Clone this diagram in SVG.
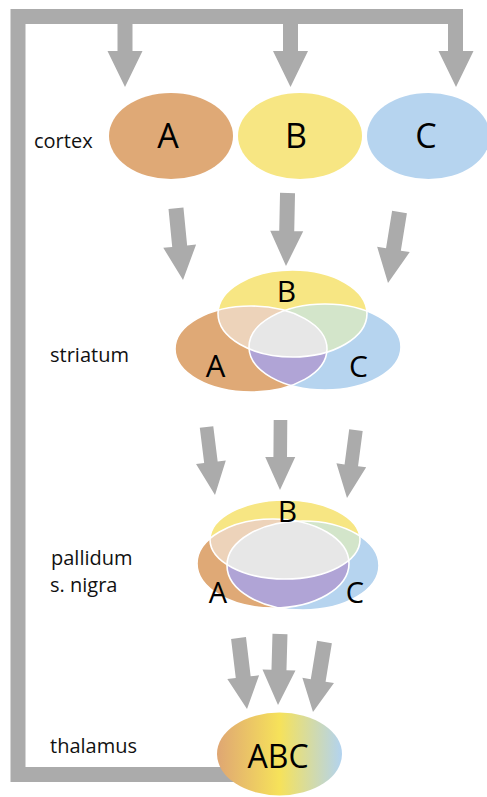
<svg xmlns="http://www.w3.org/2000/svg" width="487" height="797" viewBox="0 0 487 797">
<style>
.arrow{fill:#ABABAB;}
.frame{fill:none;stroke:#ABABAB;stroke-width:15;stroke-linecap:square;stroke-linejoin:miter;}
.lbl{font-family:"Open Sans","Liberation Sans",sans-serif;font-size:20px;fill:#111;}
.big{font-family:"Open Sans","Liberation Sans",sans-serif;fill:#000;text-anchor:middle;}
.fa{fill:#DFA976;}
.fb{fill:#F7E683;}
.fc{fill:#B6D4EF;}
.fab{fill:#EDD3BA;}
.fbc{fill:#D3E5CA;}
.fac{fill:#B0A4D6;}
.fabc{fill:#E7E7E7;}
.edge{fill:none;stroke:#FFFFFF;stroke-width:1.6;}
</style>
<defs>
<linearGradient id="gThal" x1="0" y1="0" x2="1" y2="0">
<stop offset="0" stop-color="#DFA673"/>
<stop offset="0.5" stop-color="#F6E25A"/>
<stop offset="1" stop-color="#B2D3F0"/>
</linearGradient>
<!-- striatum clips -->
<clipPath id="sA"><ellipse cx="251" cy="349" rx="76" ry="43"/></clipPath>
<clipPath id="sB"><ellipse cx="292.5" cy="313.5" rx="74.5" ry="43.5"/></clipPath>
<clipPath id="sAB" clip-path="url(#sA)"><ellipse cx="292.5" cy="313.5" rx="74.5" ry="43.5"/></clipPath>
<!-- pallidum clips -->
<clipPath id="pA"><ellipse cx="273" cy="563.5" rx="76" ry="44.5"/></clipPath>
<clipPath id="pB"><ellipse cx="285" cy="539.5" rx="75" ry="39.5"/></clipPath>
<clipPath id="pAB" clip-path="url(#pA)"><ellipse cx="285" cy="539.5" rx="75" ry="39.5"/></clipPath>
</defs>
<rect width="487" height="797" fill="#FFFFFF"/>

<g id="connectors">
<path class="frame" d="M 240,774.5 H 18 V 16.5 H 455.5"/>
<polygon class="arrow" points="117.5,16 132.5,16 132.5,51 142.5,51 125,87 107.5,51 117.5,51"/>
<polygon class="arrow" points="283,16 298,16 298,51 308,51 290.5,87 273,51 283,51"/>
<polygon class="arrow" points="448,16 463,16 463,51 473.5,51 456,87 438.5,51 448,51"/>
<!-- cortex to striatum -->
<path class="arrow" transform="translate(183,280) rotate(-5.6)" d="M -7.5,-72 L -7.5,-34 L -16.5,-34 L 0,0 L 16.5,-34 L 7.5,-34 L 7.5,-72 Z"/>
<path class="arrow" transform="translate(286,266) rotate(1.2)" d="M -7.5,-73 L -7.5,-35 L -16.5,-35 L 0,0 L 16.5,-35 L 7.5,-35 L 7.5,-73 Z"/>
<path class="arrow" transform="translate(388,283) rotate(9.2)" d="M -7.5,-72 L -7.5,-34 L -16.5,-34 L 0,0 L 16.5,-34 L 7.5,-34 L 7.5,-72 Z"/>
<!-- striatum to pallidum -->
<path class="arrow" transform="translate(215,495) rotate(-7.1)" d="M -6.8,-68.5 L -6.8,-33 L -15,-33 L 0,0 L 15,-33 L 6.8,-33 L 6.8,-68.5 Z"/>
<path class="arrow" transform="translate(280,490) rotate(0.4)" d="M -6.8,-70 L -6.8,-33 L -15,-33 L 0,0 L 15,-33 L 6.8,-33 L 6.8,-70 Z"/>
<path class="arrow" transform="translate(347,498) rotate(7.5)" d="M -6.8,-68.5 L -6.8,-33 L -15,-33 L 0,0 L 15,-33 L 6.8,-33 L 6.8,-68.5 Z"/>
<!-- pallidum to thalamus -->
<path class="arrow" transform="translate(247,709) rotate(-6.8)" d="M -7.5,-71.5 L -7.5,-32 L -16,-32 L 0,0 L 16,-32 L 7.5,-32 L 7.5,-71.5 Z"/>
<path class="arrow" transform="translate(278,705) rotate(1.6)" d="M -7.5,-71 L -7.5,-35 L -16.5,-35 L 0,0 L 16.5,-35 L 7.5,-35 L 7.5,-71 Z"/>
<path class="arrow" transform="translate(313,712) rotate(9.3)" d="M -7.5,-71 L -7.5,-32 L -16,-32 L 0,0 L 16,-32 L 7.5,-32 L 7.5,-71 Z"/>
</g>

<g id="cortex">
<text class="lbl" x="34" y="148">cortex</text>
<g id="cortex-A">
<ellipse class="fa" cx="171" cy="136" rx="62" ry="43"/>
<text class="big" x="168" y="148" font-size="34">A</text>
</g>
<g id="cortex-B">
<ellipse class="fb" cx="300" cy="136" rx="62" ry="43"/>
<text class="big" x="296" y="148" font-size="34">B</text>
</g>
<g id="cortex-C">
<ellipse class="fc" cx="428.5" cy="136" rx="61.5" ry="43"/>
<text class="big" x="426" y="148" font-size="34">C</text>
</g>
</g>

<g id="striatum">
<text class="lbl" x="50" y="362">striatum</text>
<ellipse class="fa" cx="251" cy="349" rx="76" ry="43"/>
<ellipse class="fc" cx="325" cy="347" rx="76" ry="43"/>
<ellipse class="fb" cx="292.5" cy="313.5" rx="74.5" ry="43.5"/>
<ellipse class="fab" clip-path="url(#sA)" cx="292.5" cy="313.5" rx="74.5" ry="43.5"/>
<ellipse class="fbc" clip-path="url(#sB)" cx="325" cy="347" rx="76" ry="43"/>
<ellipse class="fac" clip-path="url(#sA)" cx="325" cy="347" rx="76" ry="43"/>
<ellipse class="fabc" clip-path="url(#sAB)" cx="325" cy="347" rx="76" ry="43"/>
<ellipse class="edge" cx="251" cy="349" rx="76" ry="43"/>
<ellipse class="edge" cx="325" cy="347" rx="76" ry="43"/>
<ellipse class="edge" cx="292.5" cy="313.5" rx="74.5" ry="43.5"/>
<text class="big" x="286.5" y="302" font-size="30">B</text>
<text class="big" x="215.5" y="377" font-size="31">A</text>
<text class="big" x="358.5" y="377" font-size="30">C</text>
</g>

<g id="pallidum">
<text class="lbl" x="51" y="565">pallidum</text>
<text class="lbl" x="50" y="592">s. nigra</text>
<ellipse class="fa" cx="273" cy="563.5" rx="76" ry="44.5"/>
<ellipse class="fc" cx="303" cy="565.5" rx="76" ry="44.5"/>
<ellipse class="fb" cx="285" cy="539.5" rx="75" ry="39.5"/>
<ellipse class="fab" clip-path="url(#pA)" cx="285" cy="539.5" rx="75" ry="39.5"/>
<ellipse class="fbc" clip-path="url(#pB)" cx="303" cy="565.5" rx="76" ry="44.5"/>
<ellipse class="fac" clip-path="url(#pA)" cx="303" cy="565.5" rx="76" ry="44.5"/>
<ellipse class="fabc" clip-path="url(#pAB)" cx="303" cy="565.5" rx="76" ry="44.5"/>
<ellipse class="edge" cx="273" cy="563.5" rx="76" ry="44.5"/>
<ellipse class="edge" cx="303" cy="565.5" rx="76" ry="44.5"/>
<ellipse class="edge" cx="285" cy="539.5" rx="75" ry="39.5"/>
<text class="big" x="287.5" y="522" font-size="30">B</text>
<text class="big" x="218" y="603" font-size="29">A</text>
<text class="big" x="355" y="603" font-size="29">C</text>
</g>

<g id="thalamus">
<text class="lbl" x="50" y="753">thalamus</text>
<ellipse cx="279.5" cy="754" rx="62.5" ry="41.5" fill="url(#gThal)"/>
<text class="big" x="278" y="768" font-size="32">ABC</text>
</g>
</svg>
